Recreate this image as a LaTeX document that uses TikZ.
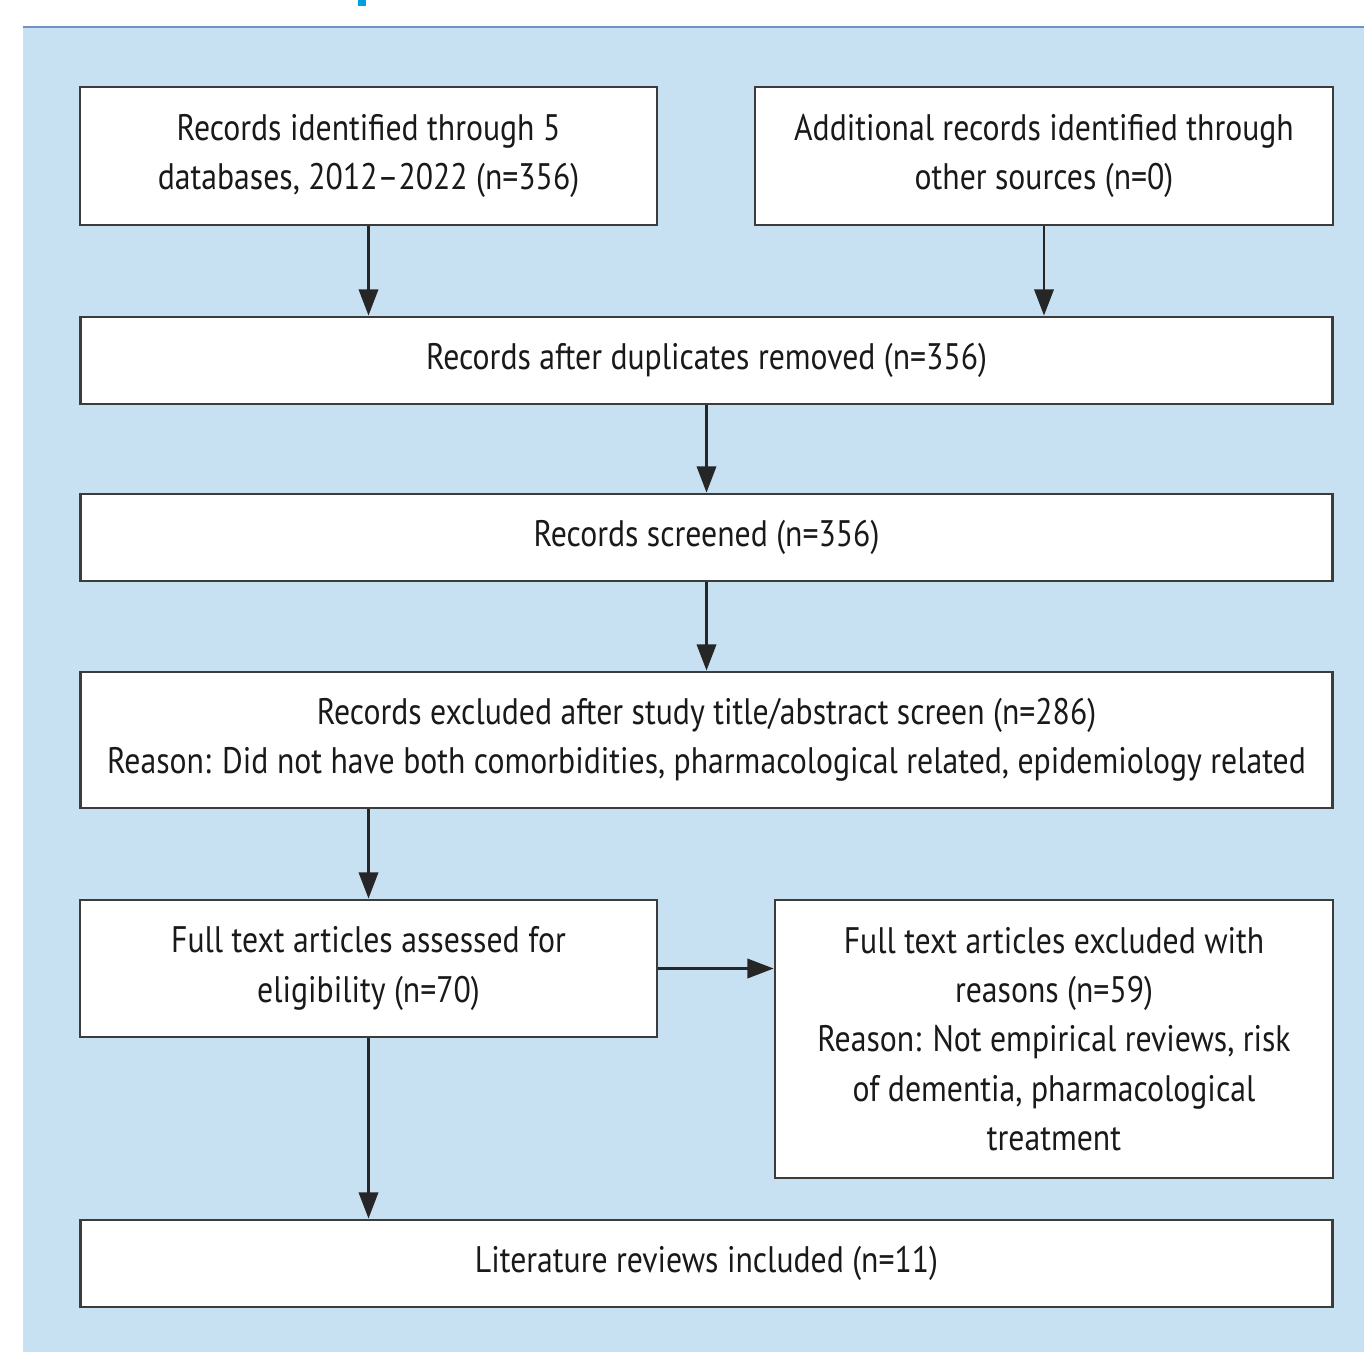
\documentclass[tikz,border=0pt]{standalone}
\usepackage{fontspec}
\setmainfont{PT Sans}[FakeStretch=0.86]
\usetikzlibrary{arrows.meta}
\definecolor{panelblue}{HTML}{C7E1F3}
\definecolor{rulecol}{HTML}{7090C8}
\definecolor{titleblue}{HTML}{00A0E0}
\definecolor{inkgray}{HTML}{3C3C3C}

\begin{document}
\begin{tikzpicture}[x=0.02cm,y=-0.02cm,
    box/.style={draw=inkgray,line width=1.6pt,fill=white,align=center,
        inner sep=0pt,font=\fontsize{21}{28}\selectfont,text=black!90},
    flow/.style={draw=black!85,line width=1.6pt,-{Triangle[length=15pt,width=11pt]}}]
        \useasboundingbox (0,0) rectangle (1364,1352);
        % draw the panel
        \fill[panelblue] (23,27) rectangle (1364,1352);
        \draw[rulecol,line width=1.6pt] (23,27) -- (1364,27);
        \fill[titleblue] (358,0) rectangle (366,6);

        % draw the boxes
        \node[box,minimum width=11.54cm,minimum height=2.76cm] (dbs) at (368.5,156)
            {Records identified through 5\\databases, 2012--2022 (n=356)};
        \node[box,minimum width=11.56cm,minimum height=2.76cm] (other) at (1044,156)
            {Additional records identified through\\other sources (n=0)};
        \node[box,minimum width=25.06cm,minimum height=1.74cm] (dupl) at (706.5,360.5)
            {Records after duplicates removed (n=356)};
        \node[box,minimum width=25.06cm,minimum height=1.74cm] (screen) at (706.5,537.5)
            {Records screened (n=356)};
        \node[box,minimum width=25.06cm,minimum height=2.72cm] (excl) at (706.5,740)
            {Records excluded after study title/abstract screen (n=286)\\Reason: Did not have both comorbidities, pharmacological related, epidemiology related};
        \node[box,minimum width=11.54cm,minimum height=2.74cm] (full) at (368.5,968.5)
            {Full text articles assessed for\\eligibility (n=70)};
        \node[box,minimum width=11.16cm,minimum height=5.56cm] (fullex) at (1054,1039)
            {Full text articles excluded with\\reasons (n=59)\\Reason: Not empirical reviews, risk\\of dementia, pharmacological\\treatment};
        \node[box,minimum width=25.06cm,minimum height=1.74cm] (incl) at (706.5,1263.5)
            {Literature reviews included (n=11)};

        % draw the arrows
        \draw[flow] (dbs.south) -- (dbs.south |- dupl.north);
        \draw[flow] (other.south) -- (other.south |- dupl.north);
        \draw[flow] (dupl) -- (screen);
        \draw[flow] (screen) -- (excl);
        \draw[flow] (excl.south -| full.south) -- (full.north);
        \draw[flow] (full.south) -- (full.south |- incl.north);
        \draw[flow] (full.east) -- (full.east -| fullex.west);
\end{tikzpicture}
\end{document}
